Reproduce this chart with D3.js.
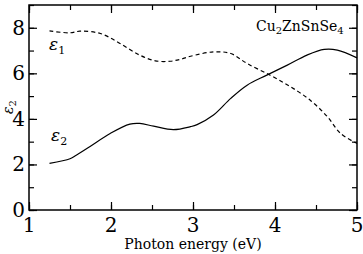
<!DOCTYPE html>
<html>
<head>
<meta charset="utf-8">
<script src="https://cdn.jsdelivr.net/npm/d3@7"></script>
<style>
  body { margin: 0; background: #fff; }
</style>
</head>
<body>
<div id="chart"></div>
<script>
// Data
var energy1 = [1.25, 1.5, 1.62, 1.87, 2.11, 2.35, 2.54, 2.72, 2.85, 2.97, 3.25, 3.46, 3.66, 3.94, 4.19, 4.43, 4.64, 4.80, 5.0];
var eps1 = [7.86, 7.78, 7.85, 7.75, 7.31, 6.8, 6.55, 6.53, 6.62, 6.75, 6.94, 6.87, 6.43, 5.92, 5.41, 4.82, 4.09, 3.36, 2.92];

var energy2 = [1.25, 1.5, 1.56, 1.74, 1.99, 2.23, 2.35, 2.52, 2.76, 2.97, 3.05, 3.25, 3.46, 3.66, 3.90, 4.15, 4.39, 4.60, 4.76, 5.0];
var eps2 = [2.05, 2.25, 2.37, 2.78, 3.36, 3.77, 3.80, 3.68, 3.53, 3.66, 3.75, 4.17, 4.9, 5.48, 5.92, 6.36, 6.8, 7.05, 7.02, 6.68];

var xTicks = [1, 2, 3, 4, 5];
var yTicks = [0, 2, 4, 6, 8];

////////////////////////////////////////////////////////////////
// Basic parameters
var svgWidth = 363;
var svgHeight = 254;
var margin = { top: 5, right: 6, bottom: 44, left: 29 };
var width = svgWidth - margin.left - margin.right;
var height = svgHeight - margin.top - margin.bottom;
var serif = "DejaVu Serif";

var svg = d3.select("#chart")
    .append("svg")
    .attr("width", svgWidth)
    .attr("height", svgHeight);

var chart = svg.append("g")
    .attr("transform", `translate(${margin.left}, ${margin.top})`);

var x = d3.scaleLinear().domain([1, 5]).range([0, width]);
var y = d3.scaleLinear().domain([0, 9]).range([height, 0]);

// ticks pointing inward on all four sides
var minorX = d3.range(1, 5.01, 0.5);
var minorY = d3.range(0, 9.01, 1);

chart.append("g").attr("transform", `translate(0, ${height})`)
    .call(d3.axisTop(x).tickValues(minorX).tickSize(5).tickFormat(""));
chart.append("g").attr("transform", `translate(0, ${height})`)
    .call(d3.axisTop(x).tickValues(xTicks).tickSize(8).tickFormat(""));
chart.append("g")
    .call(d3.axisBottom(x).tickValues(minorX).tickSize(5).tickFormat(""));
chart.append("g")
    .call(d3.axisBottom(x).tickValues(xTicks).tickSize(8).tickFormat(""));
chart.append("g")
    .call(d3.axisRight(y).tickValues(minorY).tickSize(5).tickFormat(""));
chart.append("g")
    .call(d3.axisRight(y).tickValues(yTicks).tickSize(8).tickFormat(""));
chart.append("g").attr("transform", `translate(${width}, 0)`)
    .call(d3.axisLeft(y).tickValues(minorY).tickSize(5).tickFormat(""));
chart.append("g").attr("transform", `translate(${width}, 0)`)
    .call(d3.axisLeft(y).tickValues(yTicks).tickSize(8).tickFormat(""));

chart.selectAll(".domain").remove();
chart.selectAll(".tick line").attr("stroke", "#000").attr("stroke-width", 1.2);

// frame
chart.append("rect")
    .attr("width", width).attr("height", height)
    .attr("fill", "none").attr("stroke", "#000").attr("stroke-width", 1.5);

// tick labels
chart.selectAll(".xlab").data(xTicks).enter().append("text")
    .attr("x", d => x(d)).attr("y", height + 22)
    .attr("text-anchor", "middle")
    .attr("font-family", serif).attr("font-size", 20)
    .text(d => d);

chart.selectAll(".ylab").data(yTicks).enter().append("text")
    .attr("x", -4).attr("y", d => y(d) + 7)
    .attr("text-anchor", "end")
    .attr("font-family", serif).attr("font-size", 20)
    .text(d => d);

// axis titles
svg.append("text")
    .attr("x", margin.left + width / 2).attr("y", 249)
    .attr("text-anchor", "middle")
    .attr("font-family", serif).attr("font-size", 14)
    .text("Photon energy (eV)");

var yTitle = svg.append("text")
    .attr("transform", "translate(13, 107) rotate(-90)")
    .attr("text-anchor", "middle")
    .attr("font-family", serif).attr("font-size", 14).attr("font-style", "italic");
yTitle.append("tspan").text("ε");
yTitle.append("tspan").attr("dy", 3).attr("font-size", 10).attr("font-style", "normal").text("2");

// curves
var line = d3.line().curve(d3.curveCatmullRom);

chart.append("path")
    .datum(energy1.map((e, i) => [x(e), y(eps1[i])]))
    .attr("d", line)
    .attr("fill", "none").attr("stroke", "#000").attr("stroke-width", 1.2)
    .attr("stroke-dasharray", "4,3");

chart.append("path")
    .datum(energy2.map((e, i) => [x(e), y(eps2[i])]))
    .attr("d", line)
    .attr("fill", "none").attr("stroke", "#000").attr("stroke-width", 1.2);

// curve labels
function epsLabel(px, py, sub) {
    var t = svg.append("text").attr("x", px).attr("y", py)
        .attr("font-family", serif).attr("font-size", 17).attr("font-style", "italic");
    t.append("tspan").text("ε");
    t.append("tspan").attr("dy", 4).attr("font-size", 11).attr("font-style", "normal").text(sub);
}
epsLabel(49, 50, "1");
epsLabel(51, 141, "2");

// material label
var mat = svg.append("text").attr("x", 256).attr("y", 31)
    .attr("font-family", serif).attr("font-size", 14);
mat.append("tspan").text("Cu");
mat.append("tspan").attr("dy", 3).attr("font-size", 10).text("2");
mat.append("tspan").attr("dy", -3).text("ZnSnSe");
mat.append("tspan").attr("dy", 3).attr("font-size", 10).text("4");
</script>
</body>
</html>
